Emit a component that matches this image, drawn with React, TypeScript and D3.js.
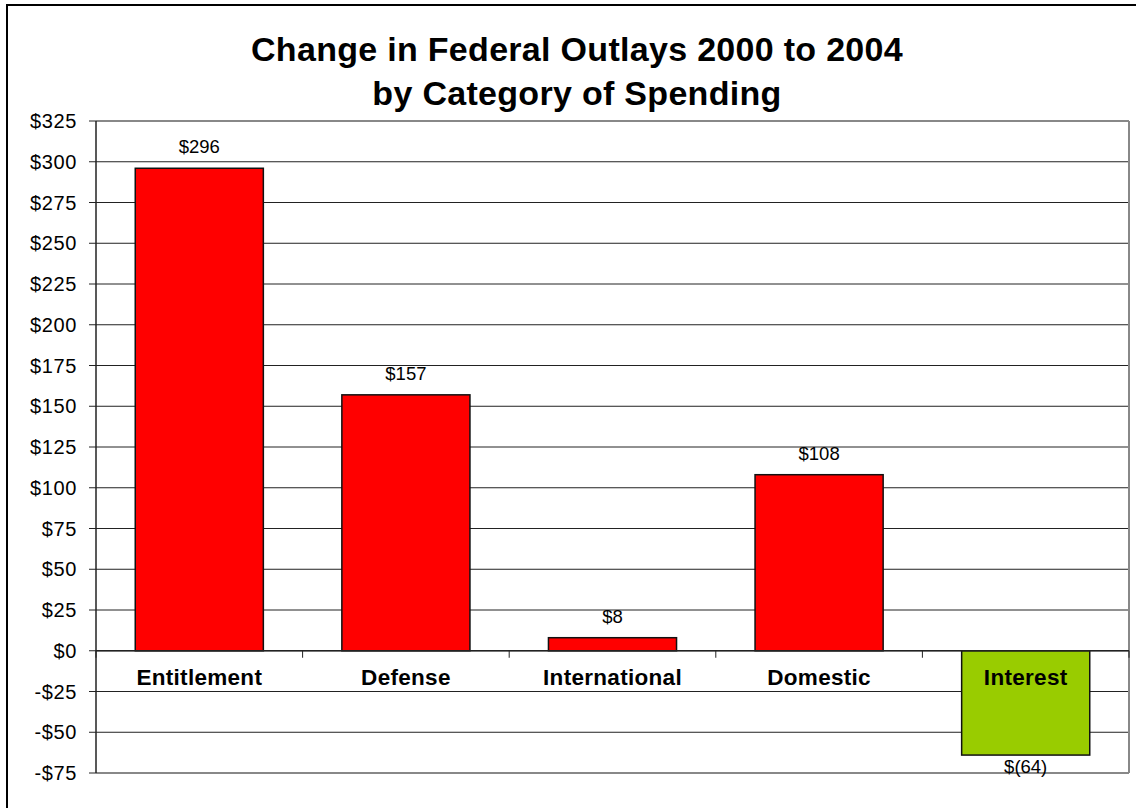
import React from "react";
import * as d3 from "d3";

const categories: string[] = ["Entitlement", "Defense", "International", "Domestic", "Interest"];
const values: number[] = [296, 157, 8, 108, -64];
const valueLabels: string[] = ["$296", "$157", "$8", "$108", "$(64)"];
const barColors: string[] = ["#FF0000", "#FF0000", "#FF0000", "#FF0000", "#99CC00"];
const yTicks: number[] = [-75, -50, -25, 0, 25, 50, 75, 100, 125, 150, 175, 200, 225, 250, 275, 300, 325];
const titleLines: string[] = ["Change in Federal Outlays 2000 to 2004", "by Category of Spending"];

const W = 1136;
const H = 808;
const FONT = "'Liberation Sans', Arial, Helvetica, sans-serif";

export default function App() {
  const left = 96, right = 1129, top = 121, bottom = 773;
  const y = d3.scaleLinear().domain([-75, 325]).range([bottom, top]);
  const x = d3.scaleBand<string>().domain(categories).range([left, right]).paddingInner(0.38).paddingOuter(0.19);
  const step = x.step();
  const boundaries = d3.range(categories.length + 1).map((i) => left + i * step);
  const fmt = (v: number) => (v < 0 ? `-$${Math.abs(v)}` : `$${v}`);
  const y0 = y(0);

  return (
    <svg width={W} height={H} style={{ position: "absolute", left: 0, top: 0, background: "#fff" }} fontFamily={FONT}>
      <rect x={0} y={0} width={W} height={H} fill="#fff" />
      <rect x={7} y={5} width={W + 20} height={H + 20} fill="#fff" stroke="#000" strokeWidth={2} />
      {titleLines.map((t, i) => (
        <text key={t} x={577} y={61 + i * 44} textAnchor="middle" fontSize={34} letterSpacing={0.3} fontWeight="bold" fill="#000">
          {t}
        </text>
      ))}
      {/* gridlines */}
      {yTicks.map((t) => (
        <line key={"g" + t} x1={left} x2={right} y1={y(t)} y2={y(t)}
          stroke={t === 325 || t === -75 ? "#888" : "#222"} strokeWidth={t === 325 || t === -75 ? 2 : 1} />
      ))}
      <line x1={right} x2={right} y1={top} y2={bottom} stroke="#888" strokeWidth={2} />
      {/* bars */}
      {categories.map((c, i) => {
        const v = values[i];
        const yTop = y(Math.max(0, v));
        const yBot = y(Math.min(0, v));
        return (
          <rect key={c} x={x(c)} y={yTop} width={x.bandwidth()} height={yBot - yTop}
            fill={barColors[i]} stroke="#111" strokeWidth={1.5} />
        );
      })}
      {/* zero line and category ticks */}
      <line x1={left} x2={right} y1={y0} y2={y0} stroke="#222" strokeWidth={1.5} />
      {boundaries.map((b, i) => (
        <line key={"b" + i} x1={b} x2={b} y1={y0} y2={y0 + 7} stroke="#222" strokeWidth={1} />
      ))}
      {/* left axis */}
      <line x1={left} x2={left} y1={top} y2={bottom} stroke="#222" strokeWidth={1.5} />
      {yTicks.map((t) => (
        <g key={"t" + t}>
          <line x1={left - 7} x2={left} y1={y(t)} y2={y(t)} stroke="#222" strokeWidth={1} />
          <text x={77} y={y(t)} dy="0.35em" textAnchor="end" fontSize={20} letterSpacing={0.6} fill="#000">
            {fmt(t)}
          </text>
        </g>
      ))}
      {/* category labels */}
      {categories.map((c) => (
        <text key={"c" + c} x={(x(c) as number) + x.bandwidth() / 2} y={y0 + 34} textAnchor="middle"
          fontSize={22.5} letterSpacing={0.3} fontWeight="bold" fill="#000">
          {c}
        </text>
      ))}
      {/* value labels */}
      {categories.map((c, i) => {
        const v = values[i];
        const cx = (x(c) as number) + x.bandwidth() / 2;
        const ly = v >= 0 ? y(v) - 15 : y(v) + 18;
        return (
          <text key={"v" + c} x={cx} y={ly} textAnchor="middle" fontSize={18.5} fill="#000">
            {valueLabels[i]}
          </text>
        );
      })}
    </svg>
  );
}
